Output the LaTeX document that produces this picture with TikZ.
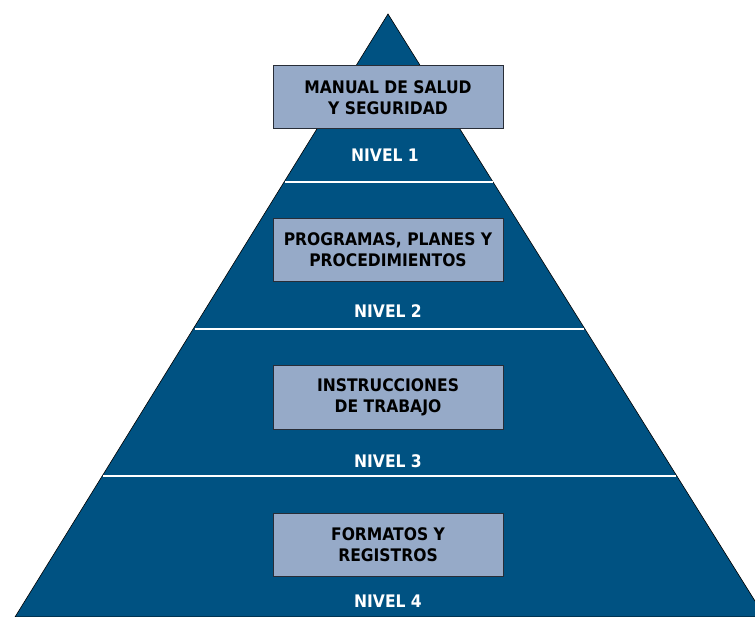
\documentclass[tikz,border=0pt]{standalone}
\usepackage{fontspec}
\setmainfont{DejaVu Sans Condensed}
\definecolor{pyrblue}{RGB}{0,82,130}
\definecolor{boxfill}{RGB}{150,170,200}
\definecolor{boxline}{RGB}{40,45,55}
\begin{document}
\begin{tikzpicture}[x=1pt,y=-1pt,
  lvbox/.style={draw=boxline,line width=1pt,fill=boxfill,minimum width=230pt,minimum height=63pt,inner sep=0pt,align=center,font=\fontsize{17.3}{21}\selectfont\bfseries,text=black},
  lvlabel/.style={font=\fontsize{17.3}{18}\selectfont\bfseries,text=white,inner sep=0pt},
  sep/.style={white,line width=2.5pt}]
\useasboundingbox (0,0) rectangle (755,617);
\clip (0,0) rectangle (755,617);
\coordinate (apex) at (388,14);
\coordinate (bl) at (15,617);
\coordinate (br) at (765,617);
\draw[fill=pyrblue,draw=black,line width=0.6pt] (apex) -- (bl) -- (br) -- cycle;
\coordinate (s1l) at (285,182); \coordinate (s1r) at (493,182);
\coordinate (s2l) at (195,329); \coordinate (s2r) at (584,329);
\coordinate (s3l) at (103,476); \coordinate (s3r) at (676,476);
\draw[sep] (s1l) -- (s1r);
\draw[sep] (s2l) -- (s2r);
\draw[sep] (s3l) -- (s3r);
\node[lvbox] (b1) at (388,97.5) {MANUAL DE SALUD\\Y SEGURIDAD};
\node[lvbox] (b2) at (388,250) {PROGRAMAS, PLANES Y\\PROCEDIMIENTOS};
\node[lvbox] (b3) at (388,397.5) {INSTRUCCIONES\\DE TRABAJO};
\node[lvbox] (b4) at (388,544.5) {FORMATOS Y\\REGISTROS};
\node[lvlabel] (n1) at (385,155) {NIVEL 1};
\node[lvlabel] (n2) at (388,311) {NIVEL 2};
\node[lvlabel] (n3) at (388,461) {NIVEL 3};
\node[lvlabel] (n4) at (388,601) {NIVEL 4};
\end{tikzpicture}
\end{document}
